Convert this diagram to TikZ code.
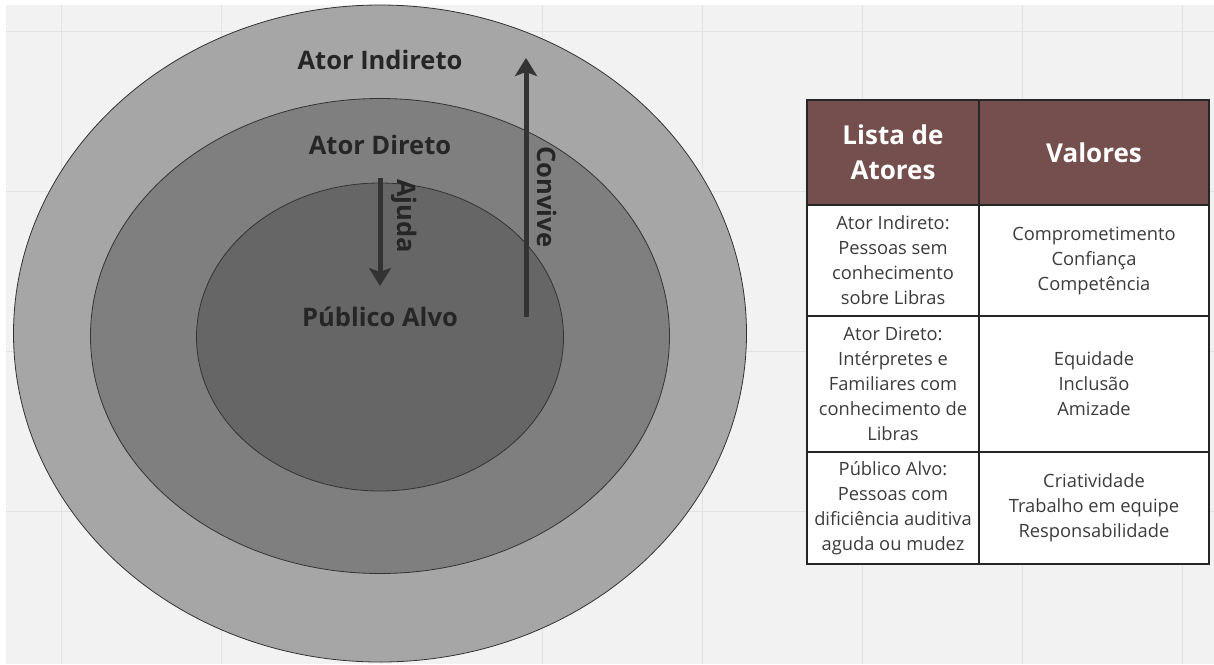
\documentclass[tikz,border=0pt]{standalone}
\usepackage{fontspec}
\setmainfont{Open Sans}
\usetikzlibrary{shapes.geometric,arrows.meta}
\definecolor{bg}{HTML}{F2F2F2}
\definecolor{gridc}{HTML}{E2E2E2}
\definecolor{outerc}{HTML}{A6A6A6}
\definecolor{midc}{HTML}{7F7F7F}
\definecolor{innerc}{HTML}{666666}
\definecolor{ink}{HTML}{262626}
\definecolor{arrc}{HTML}{333333}
\definecolor{hdr}{HTML}{744F4D}
\definecolor{body}{HTML}{3C3C3C}
\tikzset{
  gridline/.style={draw=gridc, line width=1pt},
  ring/.style={ellipse, draw=black!80, line width=0.8pt, inner sep=0pt},
  ringlabel/.style={anchor=base, text=ink, font=\fontsize{25.5}{30}\selectfont\bfseries},
  rel/.style={draw=arrc, line width=5pt, -{Stealth[length=18pt, width=22pt, inset=4pt]}},
  rellabel/.style={rotate=-90, text=ink, font=\fontsize{25.5}{30}\selectfont\bfseries},
  cell/.style={rectangle, draw=black!85, line width=1.2pt, inner sep=0pt, align=center},
  hcell/.style={cell, fill=hdr, text=white, font=\fontsize{26}{35}\selectfont\bfseries},
  bcell/.style={cell, fill=white, text=body, font=\fontsize{18.3}{25}\selectfont},
}
\begin{document}
\begin{tikzpicture}[x=1pt,y=-1pt]
\useasboundingbox (0,0) rectangle (1214,664);
\fill[white] (0,0) rectangle (1214,664);
\fill[bg] (6,5) rectangle (1214,664);
\foreach \gx in {61,221,381,542,702,862,1022,1182} \draw[gridline] (\gx,5) -- (\gx,664);
\foreach \gy in {31,191,351,511} \draw[gridline] (6,\gy) -- (1214,\gy);

% concentric ellipses
\node[ring, fill=outerc, minimum width=733pt, minimum height=657pt] (outer) at (380,333.5) {};
\node[ring, fill=midc, minimum width=579pt, minimum height=475pt] (middle) at (380,336) {};
\node[ring, fill=innerc, minimum width=367pt, minimum height=308pt] (inner) at (380,337) {};

\node[ringlabel] (lind) at (380,69) {Ator Indireto};
\node[ringlabel] (ldir) at (380,154) {Ator Direto};
\node[ringlabel] (lpub) at (380,326) {Público Alvo};

% arrows
\coordinate (ajs) at (380,178);
\coordinate (aje) at (380,286);
\draw[rel] (ajs) -- (aje);
\node[rellabel] (ajuda) at (404,216) {Ajuda};

\coordinate (cvs) at (526,317);
\coordinate (cve) at (526,58);
\draw[rel] (cvs) -- (cve);
\node[rellabel] (convive) at (547,197) {Convive};

% table
\node[hcell, minimum width=172pt, minimum height=105pt] (h1) at (893,152.5) {Lista de\\Atores};
\node[hcell, minimum width=230pt, minimum height=105pt] (h2) at (1094,152.5) {Valores};
\node[bcell, minimum width=172pt, minimum height=111pt] (a1) at (893,260.5) {Ator Indireto:\\Pessoas sem\\conhecimento\\sobre Libras};
\node[bcell, minimum width=230pt, minimum height=111pt] (v1) at (1094,260.5) {Comprometimento\\Confiança\\Competência};
\node[bcell, minimum width=172pt, minimum height=136pt] (a2) at (893,384) {Ator Direto:\\Intérpretes e\\Familiares com\\conhecimento de\\Libras};
\node[bcell, minimum width=230pt, minimum height=136pt] (v2) at (1094,384) {Equidade\\Inclusão\\Amizade};
\node[bcell, minimum width=172pt, minimum height=112pt] (a3) at (893,508) {Público Alvo:\\Pessoas com\\dificiência auditiva\\aguda ou mudez};
\node[bcell, minimum width=230pt, minimum height=112pt] (v3) at (1094,508) {Criatividade\\Trabalho em equipe\\Responsabilidade};
\end{tikzpicture}
\end{document}
